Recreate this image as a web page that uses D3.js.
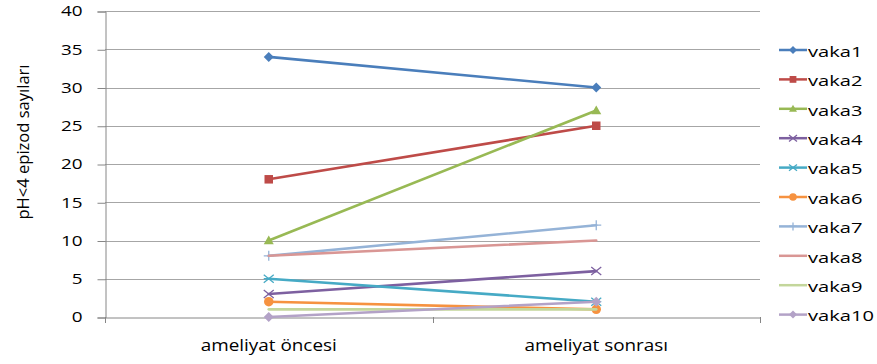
<!DOCTYPE html>
<html>
<head>
<meta charset="utf-8">
<script src="https://cdn.jsdelivr.net/npm/d3@7"></script>
<style>
  html, body { margin: 0; padding: 0; background: #fff; }
  svg { display: block; font-family: "Open Sans", "Noto Sans", sans-serif; }
</style>
</head>
<body>
<svg id="chart" width="877" height="364"></svg>
<script>
// Categories (time points) and per-case counts of pH<4 episodes
const categories = ["ameliyat öncesi", "ameliyat sonrası"];
const seriesNames = ["vaka1", "vaka2", "vaka3", "vaka4", "vaka5", "vaka6", "vaka7", "vaka8", "vaka9", "vaka10"];
const vaka1 = [34, 30];
const vaka2 = [18, 25];
const vaka3 = [10, 27];
const vaka4 = [3, 6];
const vaka5 = [5, 2];
const vaka6 = [2, 1];
const vaka7 = [8, 12];
const vaka8 = [8, 10];
const vaka9 = [1, 1];
const vaka10 = [0, 2];
const yTicks = [0, 5, 10, 15, 20, 25, 30, 35, 40];
const yLabel = "pH<4 epizod sayıları";

const seriesValues = [vaka1, vaka2, vaka3, vaka4, vaka5, vaka6, vaka7, vaka8, vaka9, vaka10];
const colors = ["#4A7EBB", "#BE4B48", "#98B954", "#7D60A0", "#46AAC5", "#F69240", "#95B3D7", "#D99694", "#C3D69B", "#B3A2C7"];
const markers = ["diamond", "square", "triangle", "x", "star", "circle", "plus", "none", "none", "diamond"];

const svg = d3.select("#chart");
const plot = { left: 105, right: 760, top: 11, bottom: 317 };

const x = d3.scaleBand().domain(categories).range([plot.left, plot.right]);
const y = d3.scaleLinear().domain([0, 40]).range([plot.bottom, plot.top]);

// Widen text horizontally (the labels use a wide, short face)
function stretch(sel, factor) {
  sel.each(function () {
    const w = this.getComputedTextLength();
    d3.select(this).attr("textLength", w * factor).attr("lengthAdjust", "spacingAndGlyphs");
  });
}

// Horizontal gridlines
svg.append("g")
  .selectAll("line")
  .data(yTicks.filter(d => d > 0))
  .join("line")
  .attr("x1", plot.left).attr("x2", plot.right)
  .attr("y1", d => Math.round(y(d)) + 0.5).attr("y2", d => Math.round(y(d)) + 0.5)
  .attr("stroke", "#a6a6a6").attr("stroke-width", 1);

// Y axis
const yAxis = svg.append("g")
  .attr("transform", `translate(${plot.left + 0.5},0.5)`)
  .call(d3.axisLeft(y).tickValues(yTicks).tickSize(8).tickPadding(15));
yAxis.select(".domain").attr("stroke", "#868686");
yAxis.selectAll(".tick line").attr("stroke", "#868686");
yAxis.selectAll(".tick text")
  .attr("fill", "#000").style("font-size", "14px")
  .style("font-family", "'Open Sans', sans-serif")
  .call(stretch, 1.35);

// X axis
const xAxis = svg.append("g")
  .attr("transform", `translate(0,${plot.bottom + 0.5})`)
  .call(d3.axisBottom(x).tickSize(0).tickPadding(0));
xAxis.select(".domain").attr("stroke", "#868686");
xAxis.selectAll(".tick text")
  .attr("fill", "#000").attr("y", 33).attr("dy", null)
  .style("font-size", "16px")
  .style("font-family", "'Open Sans', sans-serif")
  .call(stretch, 1.18);
// Category separator ticks
svg.append("g")
  .selectAll("line")
  .data([plot.left, (plot.left + plot.right) / 2, plot.right])
  .join("line")
  .attr("x1", d => Math.round(d) + 0.5).attr("x2", d => Math.round(d) + 0.5)
  .attr("y1", plot.bottom).attr("y2", plot.bottom + 6)
  .attr("stroke", "#868686");

// Y axis title
svg.append("text")
  .attr("transform", `translate(29,142) rotate(-90)`)
  .attr("text-anchor", "middle")
  .style("font-size", "16px")
  .style("font-family", "'Open Sans', sans-serif")
  .attr("textLength", 155).attr("lengthAdjust", "spacingAndGlyphs")
  .text(yLabel);

// Marker drawing helper
function drawMarker(g, type, color, size) {
  const s = size;
  switch (type) {
    case "diamond":
      g.append("path").attr("d", `M0,${-s}L${s},0L0,${s}L${-s},0Z`).attr("fill", color);
      break;
    case "square":
      g.append("rect").attr("x", -s * 0.85).attr("y", -s * 0.85).attr("width", s * 1.7).attr("height", s * 1.7).attr("fill", color);
      break;
    case "triangle":
      g.append("path").attr("d", `M0,${-s}L${s},${s * 0.75}L${-s},${s * 0.75}Z`).attr("fill", color);
      break;
    case "x":
      g.append("path").attr("d", `M${-s},${-s * 0.8}L${s},${s * 0.8}M${-s},${s * 0.8}L${s},${-s * 0.8}`)
        .attr("stroke", color).attr("stroke-width", 1.3).attr("fill", "none");
      break;
    case "star":
      g.append("path").attr("d", `M${-s},${-s * 0.8}L${s},${s * 0.8}M${-s},${s * 0.8}L${s},${-s * 0.8}M${-s},0L${s},0`)
        .attr("stroke", color).attr("stroke-width", 1.3).attr("fill", "none");
      break;
    case "circle":
      g.append("circle").attr("r", s * 0.95).attr("fill", color);
      break;
    case "plus":
      g.append("path").attr("d", `M${-s},0L${s},0M0,${-s}L0,${s}`)
        .attr("stroke", color).attr("stroke-width", 1.3).attr("fill", "none");
      break;
  }
}

// Series lines and markers
const line = d3.line()
  .x((d, i) => x(categories[i]) + x.bandwidth() / 2)
  .y(d => y(d));

const seriesG = svg.append("g");
seriesValues.forEach((vals, k) => {
  const g = seriesG.append("g");
  g.append("path")
    .datum(vals)
    .attr("d", line)
    .attr("fill", "none")
    .attr("stroke", colors[k])
    .attr("stroke-width", 2.6)
    .attr("stroke-linecap", "round");
  vals.forEach((v, i) => {
    const m = g.append("g")
      .attr("transform", `translate(${x(categories[i]) + x.bandwidth() / 2},${y(v)})`);
    drawMarker(m, markers[k], colors[k], 5);
  });
});

// Legend
const legend = svg.append("g");
seriesNames.forEach((name, k) => {
  const ly = 50 + k * 29.4;
  const row = legend.append("g").attr("transform", `translate(0,${ly})`);
  row.append("line")
    .attr("x1", 779).attr("x2", 807).attr("y1", 0).attr("y2", 0)
    .attr("stroke", colors[k]).attr("stroke-width", 2.5);
  const m = row.append("g").attr("transform", "translate(793,0)");
  drawMarker(m, markers[k], colors[k], 4);
  row.append("text")
    .attr("x", 808).attr("y", 0).attr("dy", "0.45em")
    .style("font-size", "15px")
    .style("font-family", "'Open Sans', sans-serif")
    .text(name)
    .call(stretch, 1.34);
});
</script>
</body>
</html>
